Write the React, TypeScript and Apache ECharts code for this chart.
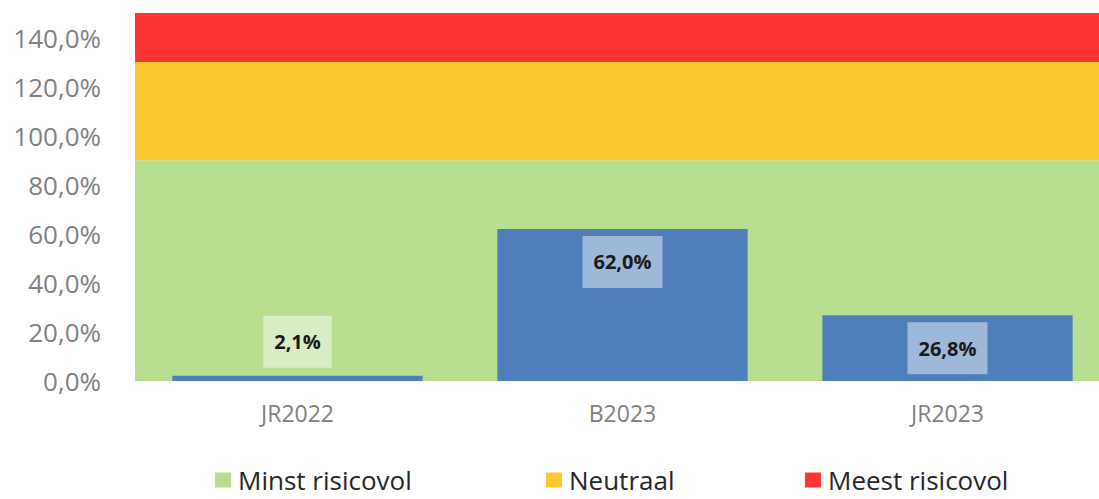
import React, { useEffect, useRef } from "react";
import * as echarts from "echarts";

const categories = ["JR2022", "B2023", "JR2023"];
const values = [2.1, 62.0, 26.8];
const bandNames = ["Minst risicovol", "Neutraal", "Meest risicovol"];
const bandSizes = [90, 40, 20];
const bandColors = ["#b8df90", "#fdc830", "#fe3435"];
const yTicks = { min: 0, max: 150, interval: 20 };

const fmt = (v: number) => v.toFixed(1).replace(".", ",") + "%";

export default function App() {
  const ref = useRef<HTMLDivElement>(null);
  useEffect(() => {
    document.body.style.margin = "0";
    const chart = echarts.init(ref.current!, undefined, { renderer: "svg" });
    const font = "Open Sans, Noto Sans, sans-serif";
    const legendLefts = [215, 546, 805];
    chart.setOption({
      animation: false,
      grid: { left: 135, right: 0, top: 13, bottom: 118 },
      legend: bandNames.map((n, i) => ({
        data: [n],
        left: legendLefts[i],
        top: 467,
        padding: 0,
        itemWidth: 16,
        itemHeight: 15,
        icon: "rect",
        selectedMode: false,
        textStyle: {
          fontSize: 26,
          lineHeight: 26,
          color: "#262626",
          fontFamily: font,
          padding: [0, 0, 0, 2],
        },
      })),
      xAxis: [
        {
          type: "category",
          data: categories,
          axisLine: { show: false },
          axisTick: { show: false },
          axisLabel: { color: "#808080", fontSize: 23, margin: 20, fontFamily: font },
        },
        {
          type: "category",
          data: ["bg"],
          show: false,
        },
      ],
      yAxis: {
        type: "value",
        min: yTicks.min,
        max: yTicks.max,
        interval: yTicks.interval,
        splitLine: { show: false },
        axisLine: { show: false },
        axisTick: { show: false },
        axisLabel: {
          color: "#808080",
          fontSize: 26,
          margin: 34,
          fontFamily: font,
          showMaxLabel: false,
          formatter: (v: number) => (v > 140 ? "" : fmt(v)),
        },
      },
      series: [
        ...bandNames.map((n, i) => ({
          name: n,
          type: "bar",
          xAxisIndex: 1,
          stack: "bg",
          barWidth: "100%",
          z: 1,
          itemStyle: { color: bandColors[i] },
          data: [bandSizes[i]],
          silent: true,
        })),
        {
          name: "Waarde",
          type: "bar",
          xAxisIndex: 0,
          z: 5,
          barCategoryGap: "23%",
          itemStyle: { color: "#4f7fbb" },
          data: values.map((v) => ({
            value: v,
            label: {
              position: v < 10 ? "top" : "insideTop",
              distance: v < 10 ? 8 : 7,
            },
          })),
          label: {
            show: true,
            formatter: (p: any) => fmt(p.value),
            fontSize: 20,
            lineHeight: 22,
            fontWeight: "bold",
            color: "#1a1a1a",
            fontFamily: font,
            backgroundColor: "rgba(255,255,255,0.45)",
            padding: [15, 11, 15, 11],
          },
        },
      ],
    });
    return () => chart.dispose();
  }, []);
  return (
    <div style={{ width: 1099, height: 499, overflow: "hidden" }}>
      <div ref={ref} style={{ width: 1110, height: 499 }} />
    </div>
  );
}
